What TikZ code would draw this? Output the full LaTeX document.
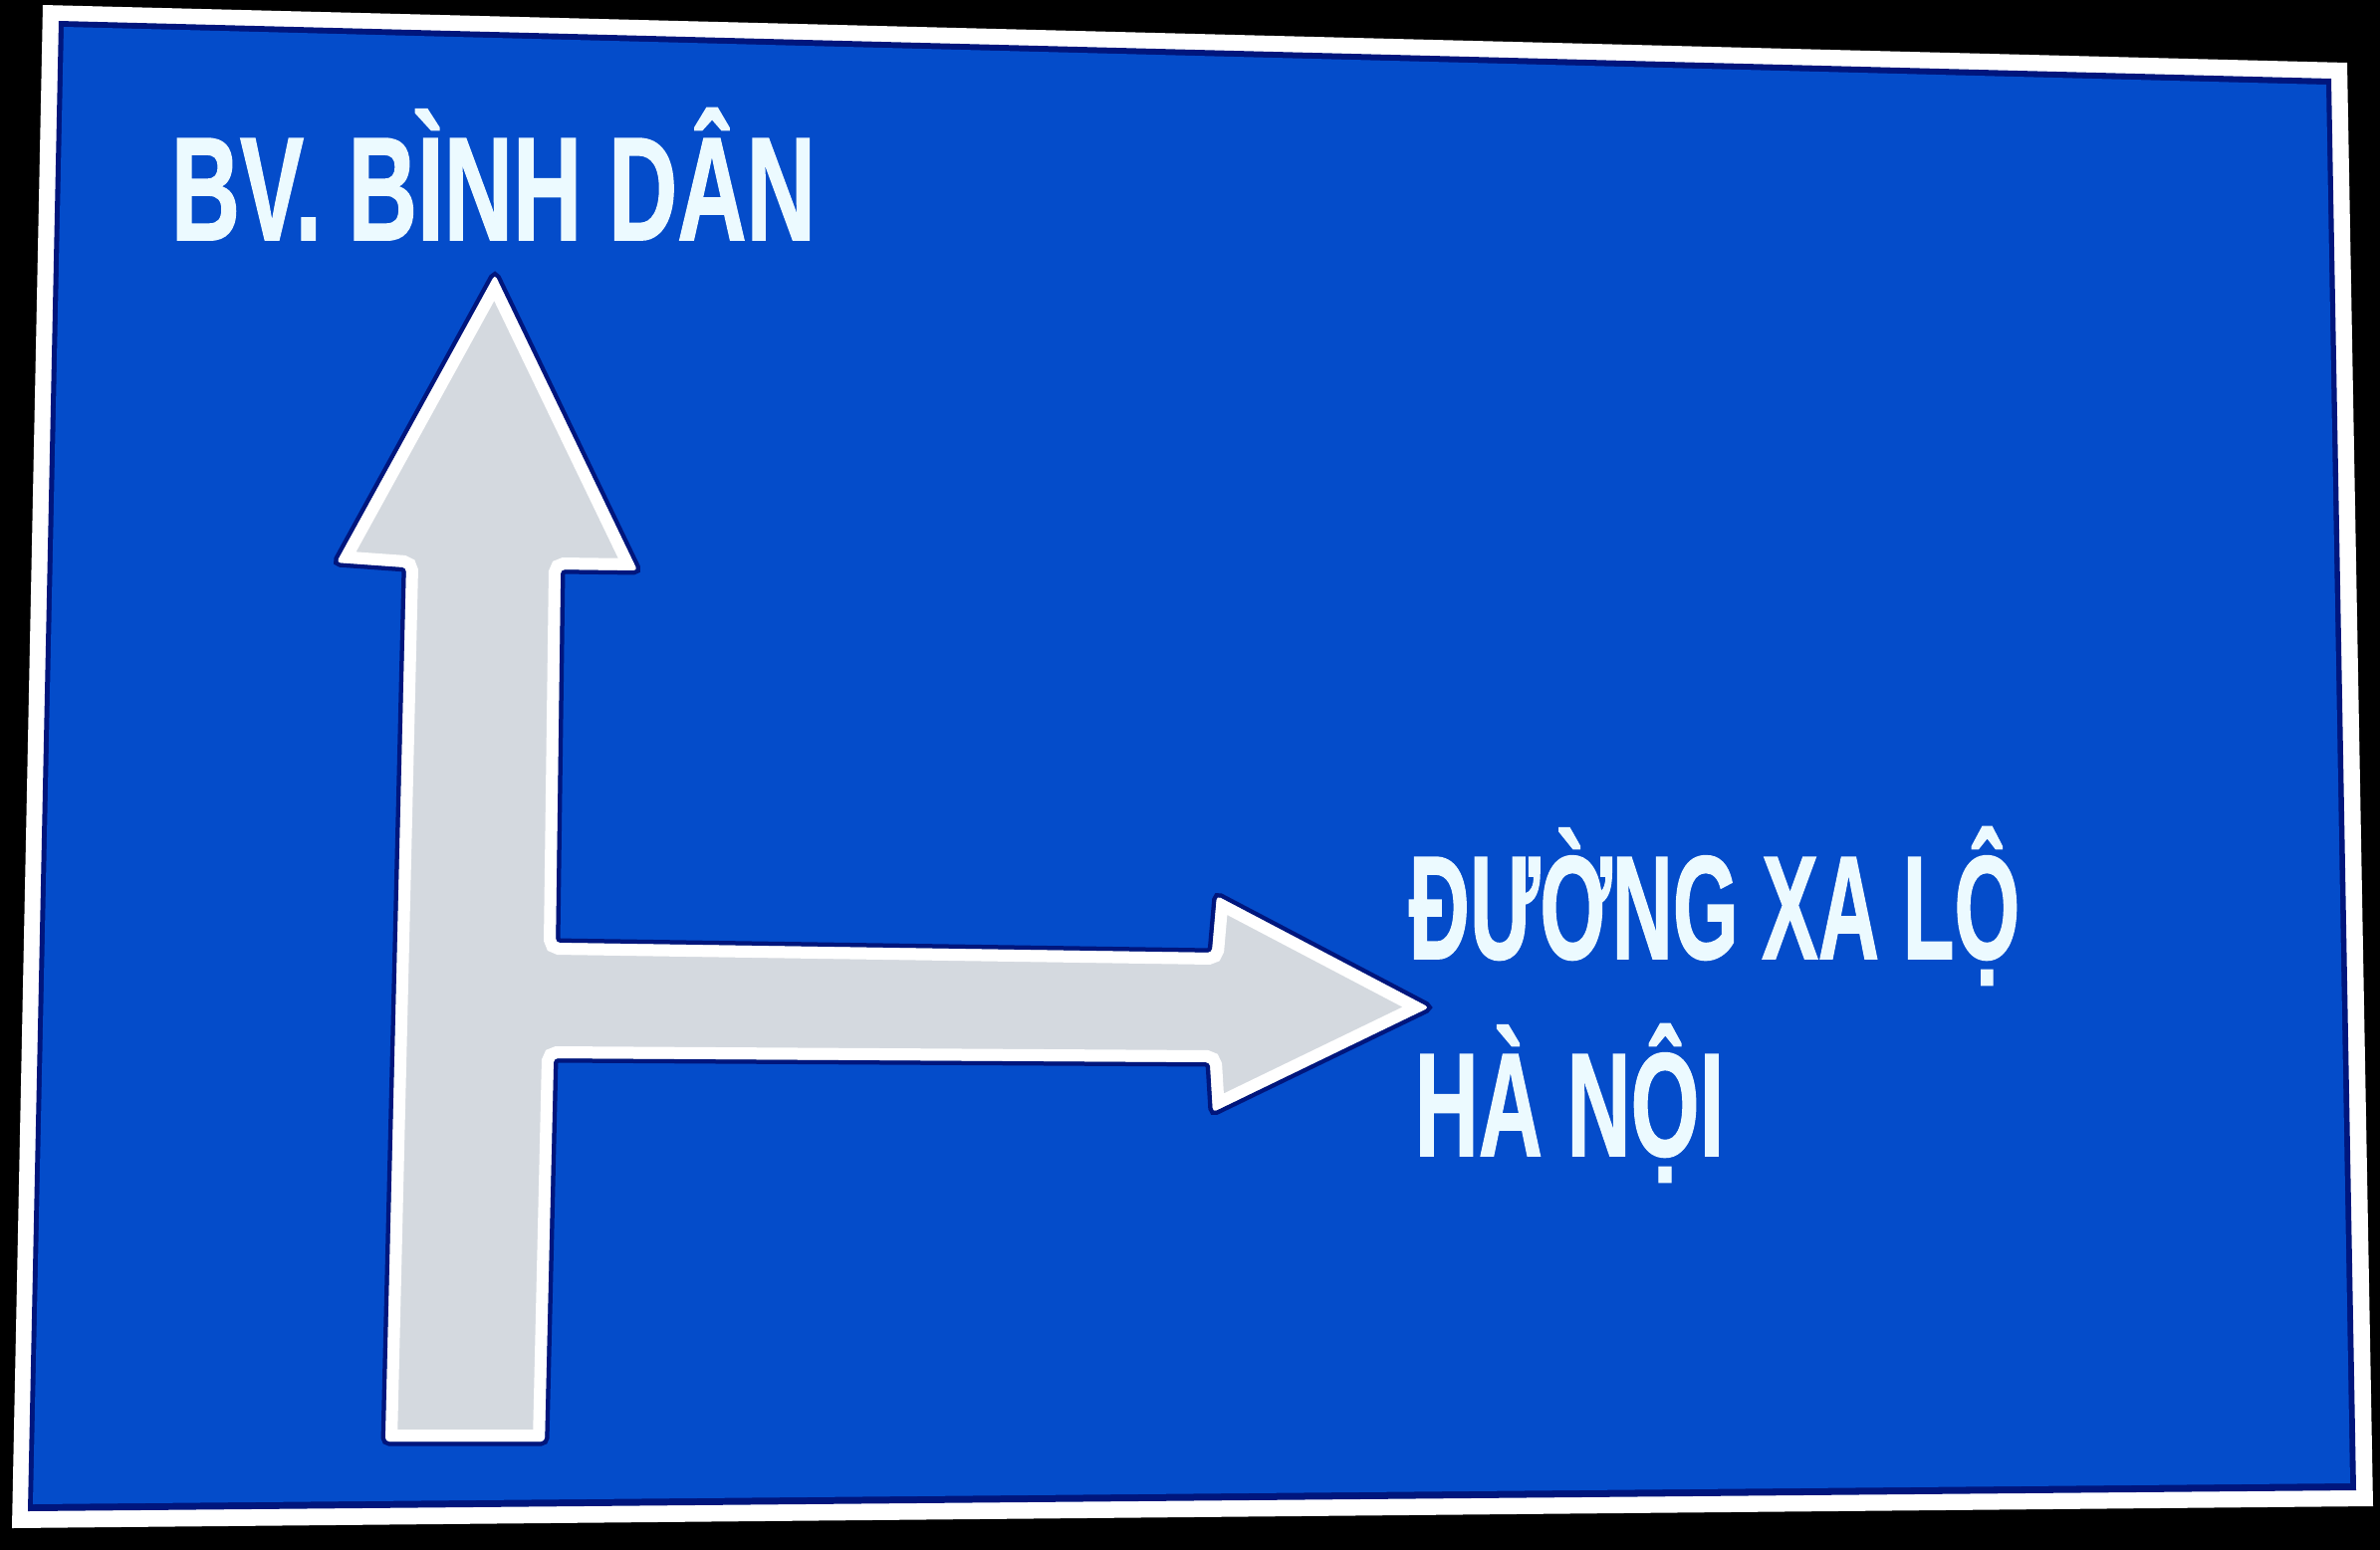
\documentclass[tikz,border=0pt]{standalone}
\usepackage{fontspec}
\usepackage{graphicx}
\newfontfamily\signfont[FakeBold=1.2]{Liberation Sans Bold}
\definecolor{signblue}{RGB}{4,76,202}
\definecolor{signnavy}{RGB}{0,22,125}
\definecolor{arrowgrey}{RGB}{212,217,223}
\definecolor{letterwhite}{RGB}{236,250,255}
% outline of the turning arrow (up, then right)
\newcommand{\turnarrow}[1]{\path[#1, rounded corners=0.4mm] (497,276) -- (640,573) -- (563,572) -- (558,947) -- (1217,957) -- (1222,900) -- (1435,1012) -- (1218,1117) -- (1215,1067) -- (556,1063) -- (547,1448) -- (387,1448) -- (408,570) -- (338,565) -- cycle;}
\begin{document}
\begin{tikzpicture}[x=0.1mm, y=-0.1mm,
    signtext/.style={anchor=base west, inner sep=0pt, text=letterwhite,
      font=\signfont\fontsize{42.1pt}{50pt}\selectfont}]
		\useasboundingbox (0,0) rectangle (2390,1557);
		\fill[black] (0,0) rectangle (2390,1557);
		% sign plate with white rim
		\fill[white] (43,5) -- (2357,63) -- (2383,1513) -- (12,1535) -- cycle;
		\fill[signnavy] (59,21) -- (2341,79) -- (2366,1497) -- (28,1518) -- cycle;
		\fill[signblue] (64,27) -- (2336,85) -- (2360,1490) -- (33,1511) -- cycle;
		% arrow
		\turnarrow{draw=signnavy, line width=0.9mm}
		\turnarrow{fill=arrowgrey}
		\begin{scope}
			\turnarrow{clip}
			\turnarrow{draw=white, line width=2.4mm}
		\end{scope}
		% destinations
		\node[signtext] (binhdan) at (171,241) {\scalebox{0.649}[1]{BV. BÌNH DÂN}};
		\node[signtext] (xalo) at (1414,963) {\scalebox{0.573}[1]{ĐƯỜNG XA LỘ}};
		\node[signtext] (hanoi) at (1420,1161) {\scalebox{0.60}[1]{HÀ NỘI}};
	\end{tikzpicture}
\end{document}
